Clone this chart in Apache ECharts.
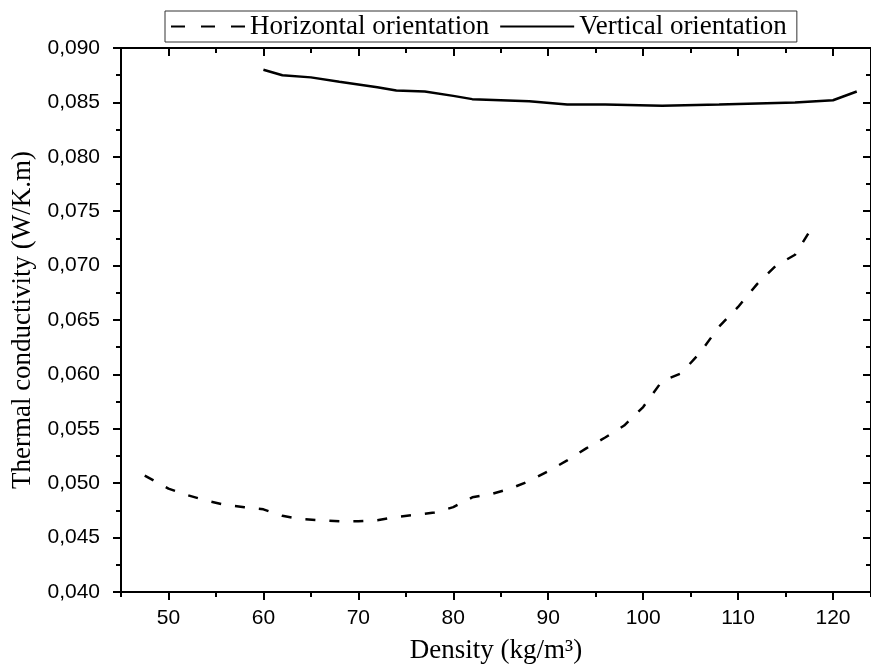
<!DOCTYPE html>
<html>
<head>
<meta charset="utf-8">
<script src="https://cdn.jsdelivr.net/npm/echarts@6/dist/echarts.min.js"></script>
<style>
    html, body { margin: 0; padding: 0; background: #fff; }
    #chart { width: 871px; height: 664px; }
</style>
</head>
<body>
<div id="chart"></div>
<script>
// horizontal orientation (dashed)
var hDensity = [47.5, 50, 52, 54, 56, 58, 60, 62, 64, 66, 68, 70, 72, 74, 76, 78, 80, 82, 84, 86, 88, 90,
    92, 94, 96, 98, 100, 102, 104, 106, 108, 110, 112, 114, 116, 117.5];
var hConductivity = [0.0507, 0.0495, 0.0489, 0.0484, 0.0480, 0.0478, 0.0476, 0.0470, 0.0467, 0.0466, 0.0465,
    0.0465, 0.0466, 0.0469, 0.0471, 0.0473, 0.0478, 0.0487, 0.0490, 0.0495, 0.0502, 0.0511, 0.0521, 0.0532,
    0.0542, 0.0553, 0.0570, 0.0594, 0.0601, 0.0620, 0.0644, 0.0662, 0.0683, 0.0700, 0.0710, 0.0731];
// vertical orientation (solid)
var vDensity = [60, 62, 65, 68, 72, 74, 77, 80, 82, 88, 92, 96, 102, 108, 116, 120, 122.5];
var vConductivity = [0.0880, 0.0875, 0.0873, 0.0869, 0.0864, 0.0861, 0.0860, 0.0856, 0.0853, 0.0851,
    0.0848, 0.0848, 0.0847, 0.0848, 0.0850, 0.0852, 0.0860];
var xTicks = [50, 60, 70, 80, 90, 100, 110, 120];

function pairs(xs, ys) {
    return xs.map(function (x, i) { return [x, ys[i]]; });
}

var myChart = echarts.init(document.getElementById('chart'));
var serif = 'Liberation Serif';
var sans = 'Liberation Sans';
var black = '#000';

var xBase = { type: 'value', min: 45, max: 124, interval: 5, splitLine: { show: false } };

option = {
    backgroundColor: '#fff',
    animation: false,
    legend: {
        left: 165,
        top: 11,
        padding: [2, 10, 2, 5],
        itemGap: 10,
        itemWidth: 74,
        itemHeight: 14,
        borderColor: '#333',
        borderWidth: 1,
        itemStyle: { color: 'rgba(0,0,0,0)', borderWidth: 0, opacity: 0 },
        textStyle: { fontFamily: serif, fontSize: 27, color: black },
        data: [
            { name: 'Horizontal orientation', lineStyle: { type: [14, 16] } },
            { name: 'Vertical orientation' }
        ]
    },
    grid: { left: 121, right: 0, top: 48, bottom: 72, outerBoundsMode: 'none' },
    xAxis: [
        Object.assign({}, xBase, {
            position: 'bottom',
            name: 'Density (kg/m³)',
            nameLocation: 'middle',
            nameGap: 45,
            nameTextStyle: { fontFamily: serif, fontSize: 27, color: black },
            axisLine: { show: true, lineStyle: { color: black, width: 2 } },
            axisTick: { show: true, customValues: xTicks, length: 8, lineStyle: { color: black, width: 2 } },
            axisLabel: { customValues: xTicks, margin: 16, fontFamily: sans, fontSize: 21, color: black }
        }),
        Object.assign({}, xBase, {
            position: 'bottom',
            axisLine: { show: false },
            axisTick: { show: true, length: 5, lineStyle: { color: black, width: 2 } },
            axisLabel: { show: false }
        }),
        Object.assign({}, xBase, {
            position: 'top',
            axisLine: { show: true, lineStyle: { color: black, width: 2 } },
            axisTick: { show: true, inside: true, customValues: xTicks, length: 8, lineStyle: { color: black, width: 2 } },
            axisLabel: { show: false }
        }),
        Object.assign({}, xBase, {
            position: 'top',
            axisLine: { show: false },
            axisTick: { show: true, inside: true, length: 5, lineStyle: { color: black, width: 2 } },
            axisLabel: { show: false }
        })
    ],
    yAxis: [
        {
            type: 'value',
            position: 'left',
            min: 0.04,
            max: 0.09,
            interval: 0.005,
            name: 'Thermal conductivity (W/K.m)',
            nameLocation: 'middle',
            nameGap: 79,
            nameTextStyle: { fontFamily: serif, fontSize: 27, color: black },
            splitLine: { show: false },
            axisLine: { show: true, lineStyle: { color: black, width: 2 } },
            axisTick: { show: true, length: 8, lineStyle: { color: black, width: 2 } },
            minorTick: { show: true, splitNumber: 2, length: 5, lineStyle: { color: black, width: 2 } },
            axisLabel: {
                margin: 21,
                fontFamily: sans,
                fontSize: 21,
                color: black,
                formatter: function (v) { return v.toFixed(3).replace('.', ','); }
            }
        },
        {
            type: 'value',
            position: 'right',
            min: 0.04,
            max: 0.09,
            interval: 0.005,
            splitLine: { show: false },
            axisLine: { show: true, lineStyle: { color: black, width: 2 } },
            axisTick: { show: true, inside: true, length: 8, lineStyle: { color: black, width: 2 } },
            minorTick: { show: true, splitNumber: 2, length: 5, lineStyle: { color: black, width: 2 } },
            axisLabel: { show: false }
        }
    ],
    series: [
        {
            name: 'Horizontal orientation',
            type: 'line',
            symbol: 'none',
            data: pairs(hDensity, hConductivity),
            lineStyle: { color: black, width: 2.5, type: [10, 14] },
            itemStyle: { color: black }
        },
        {
            name: 'Vertical orientation',
            type: 'line',
            symbol: 'none',
            data: pairs(vDensity, vConductivity),
            lineStyle: { color: black, width: 2.5 },
            itemStyle: { color: black }
        }
    ]
};

myChart.setOption(option);
</script>
</body>
</html>
